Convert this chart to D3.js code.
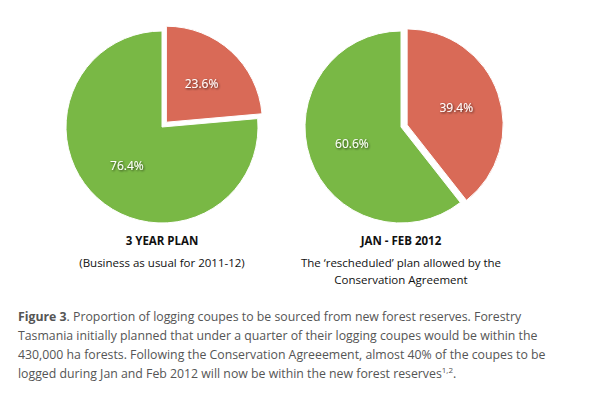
<!DOCTYPE html>
<html><head><meta charset="utf-8">
<script src="https://cdn.jsdelivr.net/npm/d3@7"></script>
<style>body{margin:0;background:#fff}</style>
</head><body>
<svg id="c" width="604" height="394"></svg>
<script>
const categories = ["Within new reserves", "Outside new reserves"];
const plan3yr = [23.6, 76.4];
const janFeb2012 = [39.4, 60.6];
const titles = ["3 YEAR PLAN", "JAN - FEB 2012"];
const subtitles = [["(Business as usual for 2011-12)"], ["The \u2018rescheduled\u2019 plan allowed by the", "Conservation Agreement"]];
const captionLines = [
  ["Figure 3", ". Proportion of logging coupes to be sourced from new forest reserves. Forestry"],
  ["", "Tasmania initially planned that under a quarter of their logging coupes would be within the"],
  ["", "430,000 ha forests. Following the Conservation Agreeement, almost 40% of the coupes to be"],
  ["", "logged during Jan and Feb 2012 will now be within the new forest reserves"]
];

const svg = d3.select("#c");
const font = "'Open Sans','Noto Sans',sans-serif";
const color = d3.scaleOrdinal().domain(categories).range(["#d96a57", "#79b845"]);
const defs = svg.append("defs");
const f = defs.append("filter").attr("id","sh").attr("x","-20%").attr("y","-40%").attr("width","150%").attr("height","200%");
f.append("feDropShadow").attr("dx",1).attr("dy",1).attr("stdDeviation",0.8).attr("flood-color","#000").attr("flood-opacity",0.7);

const R = 96, explode = 6.5;
const pie = d3.pie().sort(null).value(d => d.v);
const arc = d3.arc().innerRadius(0).outerRadius(R);
const labelArc = d3.arc().innerRadius(52).outerRadius(52);
const centers = [[162,127],[401,127]];
[plan3yr, janFeb2012].forEach((vals, i) => {
  const data = vals.map((v, j) => ({cat: categories[j], v}));
  const g = svg.append("g").attr("transform", `translate(${centers[i][0]},${centers[i][1]})`);
  const arcs = pie(data);
  const sg = g.selectAll("g.s").data(arcs).join("g").attr("class","s")
    .attr("transform", d => {
      if (d.index !== 0) return null;
      const m = (d.startAngle + d.endAngle) / 2;
      return `translate(${explode*Math.sin(m)},${-explode*Math.cos(m)})`;
    });
  sg.append("path").attr("d", arc).attr("fill", d => color(d.data.cat))
    .attr("stroke","#fff").attr("stroke-width",1);
  sg.append("text").attr("transform", d => `translate(${labelArc.centroid(d)})`)
    .attr("text-anchor","middle").attr("dy","0.35em")
    .attr("font-family", font).attr("font-size", 12).attr("fill","#fff")
    .attr("filter","url(#sh)")
    .text(d => d.data.v.toFixed(1) + "%");
  // titles
  svg.append("text").attr("x", centers[i][0]).attr("y", 245).attr("text-anchor","middle")
    .attr("font-family", font).attr("font-size", 11.5).attr("font-weight","bold").attr("fill","#111")
    .text(titles[i]);
  subtitles[i].forEach((s, k) => {
    svg.append("text").attr("x", centers[i][0]).attr("y", 267 + k*17).attr("text-anchor","middle")
      .attr("font-family", font).attr("font-size", 11.5).attr("fill","#111").text(s);
  });
});

captionLines.forEach((ln, k) => {
  const t = svg.append("text").attr("x", 18).attr("y", 321 + k*19)
    .attr("font-family", font).attr("font-size", 12.3).attr("fill","#555");
  if (ln[0]) t.append("tspan").attr("font-weight","bold").text(ln[0]);
  t.append("tspan").text(ln[1]);
  if (k === captionLines.length - 1) {
    t.append("tspan").attr("font-size", 8).attr("dy", -5).text("1,2");
    t.append("tspan").attr("dy", 5).text(".");
  }
});
</script>
</body></html>
